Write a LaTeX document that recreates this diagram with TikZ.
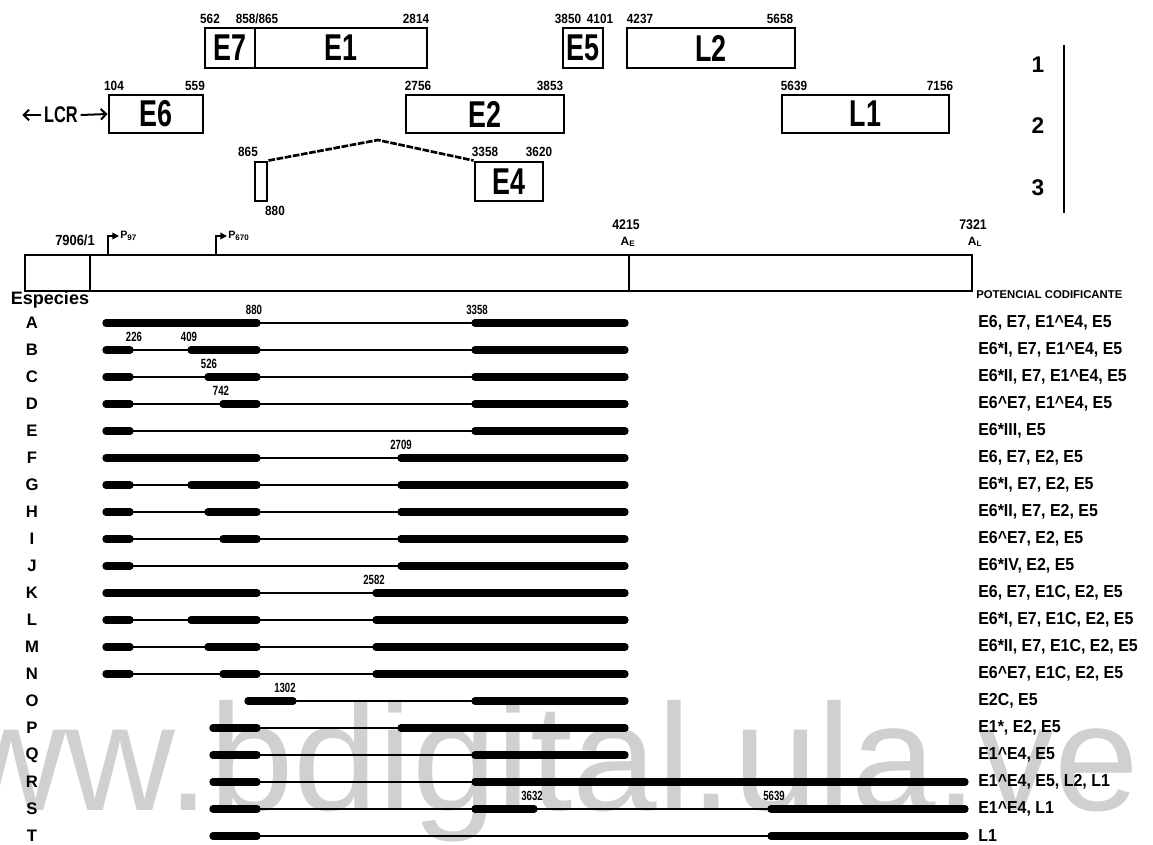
\documentclass[tikz,border=0pt]{standalone}
\usepackage{fontspec}
\setmainfont{Liberation Sans}
\newfontfamily\narrowfont[FakeStretch=0.72]{Liberation Sans}
\newfontfamily\numfont[FakeStretch=0.88]{Liberation Sans}
\newfontfamily\codfont[FakeStretch=0.92]{Liberation Sans}
\usetikzlibrary{arrows.meta}
\definecolor{wmgray}{RGB}{208,208,208}
\newcommand\geneBox[6]{%
  \pgfmathsetmacro\gbw{(#4-#2)*0.75}%
  \pgfmathsetmacro\gbh{(#5-#3)*0.75}%
  \node[genebox, minimum width=\gbw pt, minimum height=\gbh pt] (#1) at ({(#2+#4)/2},{(#3+#5)/2}) {#6};}
\newcommand\spRow[6]{%
  \node[rowlab] (lab#2) at (32,#1) {#2};
  \draw[thinl] (#3,#1) -- (#4,#1);
  \foreach \sa/\sb in {#5} {\draw[thickl] ({\sa+3},#1) -- ({\sb-3},#1);}
  \node[codtext] (cod#2) at (978,#1) {#6};}
\begin{document}
\begin{tikzpicture}[x=0.75pt,y=-0.75pt,
  genebox/.style={draw, line width=2.2pt, inner sep=0pt, font=\narrowfont\bfseries\fontsize{28}{28}\selectfont},
  num/.style={font=\numfont\bfseries\fontsize{10}{10}\selectfont, inner sep=0pt},
  rowlab/.style={font=\bfseries\fontsize{12.5}{13}\selectfont, inner sep=0pt},
  codtext/.style={font=\codfont\bfseries\fontsize{13}{14}\selectfont, inner sep=0pt, anchor=west},
  splnum/.style={font=\narrowfont\bfseries\fontsize{10}{10}\selectfont, inner sep=0pt},
  thinl/.style={line width=1.5pt},
  thickl/.style={line width=5.5pt, line cap=round},
  prom/.style={line width=1.1pt, -{Triangle[length=5pt,width=5pt]}},
  lcrarrow/.style={line width=1.5pt, -{Straight Barb[length=4pt,width=8pt]}},
]
\useasboundingbox (0,0) rectangle (1153,844);
% watermark
\node[anchor=base west, text=wmgray, font=\fontsize{114}{114}\selectfont, inner sep=0pt] (wm) at (-154,810) {www.bdigital.ula.ve};
% top gene boxes
\geneBox{E7}{205}{28}{255}{68}{E7}
\geneBox{E1}{255}{28}{427}{68}{E1}
\geneBox{E5}{563}{28}{603}{68}{E5}
\geneBox{L2}{627}{28}{795}{68}{L2}
\geneBox{E6}{109}{95}{203}{133}{E6}
\geneBox{E2}{406}{95}{564}{133}{E2}
\geneBox{L1}{782}{95}{949}{133}{L1}
\geneBox{E1s}{255}{162}{267}{201}{}
\geneBox{E4}{475}{162}{543}{201}{E4}
% coordinates labels
\node[num] (n562) at (210,19) {562};
\node[num] (n858) at (257,19) {858/865};
\node[num] (n2814) at (416,19) {2814};
\node[num] (n3850) at (568,19) {3850};
\node[num] (n4101) at (600,19) {4101};
\node[num] (n4237) at (640,19) {4237};
\node[num] (n5658) at (780,19) {5658};
\node[num] (n104) at (114,86) {104};
\node[num] (n559) at (195,86) {559};
\node[num] (n2756) at (418,86) {2756};
\node[num] (n3853) at (550,86) {3853};
\node[num] (n5639) at (794,86) {5639};
\node[num] (n7156) at (940,86) {7156};
\node[num] (n865) at (248,152) {865};
\node[num] (n880) at (275,211) {880};
\node[num] (n3358) at (485,152) {3358};
\node[num] (n3620) at (539,152) {3620};
% splice line
\coordinate (peak) at (378,140);
\draw[line width=2pt, dash pattern=on 5pt off 1.2pt] (E1s.north east) -- (peak) -- (E4.north west);
% LCR
\node[font=\narrowfont\bfseries\fontsize{17}{17}\selectfont, inner sep=0pt] (lcr) at (61,115) {LCR};
\draw[lcrarrow] ([xshift=-2pt]lcr.west) -- ++(-19,0);
\draw[lcrarrow] ([xshift=2pt]lcr.east) -- (E6.west);
% frame numbers
\node[font=\bfseries\fontsize{17}{17}\selectfont, inner sep=0pt] (f1) at (1038,65) {1};
\node[font=\bfseries\fontsize{17}{17}\selectfont, inner sep=0pt] (f2) at (1038,126) {2};
\node[font=\bfseries\fontsize{17}{17}\selectfont, inner sep=0pt] (f3) at (1038,188) {3};
\draw[line width=1.5pt] (1064,45) -- (1064,213);
% genome
\geneBox{genome}{25}{255}{972}{291}{}
\draw[line width=2.2pt] (90,255) -- (90,291);
\draw[line width=2.2pt] (629,255) -- (629,291);
\node[num, font=\numfont\bfseries\fontsize{11}{11}\selectfont] (n7906) at (75,240) {7906/1};
\node[num, font=\numfont\bfseries\fontsize{10.5}{11}\selectfont] (n4215) at (626,225) {4215};
\node[num, font=\numfont\bfseries\fontsize{10.5}{11}\selectfont] (n7321) at (973,225) {7321};
\node[num, font=\bfseries\fontsize{9}{10}\selectfont] (AE) at (628,242) {A\textsubscript{E}};
\node[num, font=\bfseries\fontsize{9}{10}\selectfont] (AL) at (975,242) {A\textsubscript{L}};
\draw[prom] (108,255) |- (119,236);
\node[num, anchor=west, font=\bfseries\fontsize{8}{8}\selectfont] (p97) at (120,236) {P\textsubscript{97}};
\draw[prom] (216,255) |- (227,236);
\node[num, anchor=west, font=\bfseries\fontsize{8}{8}\selectfont] (p670) at (228,236) {P\textsubscript{670}};
% headings
\node[font=\bfseries\fontsize{13.5}{14}\selectfont, inner sep=0pt] (esp) at (50,300) {Especies};
\node[font=\bfseries\fontsize{8.5}{9}\selectfont, inner sep=0pt, anchor=west] (pot) at (976,295) {POTENCIAL CODIFICANTE};
% rows
\spRow{323}{A}{103}{628}{103/260,472/628}{E6, E7, E1\textasciicircum E4, E5}
\spRow{350}{B}{103}{628}{103/133,188/260,472/628}{E6*I, E7, E1\textasciicircum E4, E5}
\spRow{377}{C}{103}{628}{103/133,205/260,472/628}{E6*II, E7, E1\textasciicircum E4, E5}
\spRow{404}{D}{103}{628}{103/133,220/260,472/628}{E6\textasciicircum E7, E1\textasciicircum E4, E5}
\spRow{431}{E}{103}{628}{103/133,472/628}{E6*III, E5}
\spRow{458}{F}{103}{628}{103/260,398/628}{E6, E7, E2, E5}
\spRow{485}{G}{103}{628}{103/133,188/260,398/628}{E6*I, E7, E2, E5}
\spRow{512}{H}{103}{628}{103/133,205/260,398/628}{E6*II, E7, E2, E5}
\spRow{539}{I}{103}{628}{103/133,220/260,398/628}{E6\textasciicircum E7, E2, E5}
\spRow{566}{J}{103}{628}{103/133,398/628}{E6*IV, E2, E5}
\spRow{593}{K}{103}{628}{103/260,373/628}{E6, E7, E1C, E2, E5}
\spRow{620}{L}{103}{628}{103/133,188/260,373/628}{E6*I, E7, E1C, E2, E5}
\spRow{647}{M}{103}{628}{103/133,205/260,373/628}{E6*II, E7, E1C, E2, E5}
\spRow{674}{N}{103}{628}{103/133,220/260,373/628}{E6\textasciicircum E7, E1C, E2, E5}
\spRow{701}{O}{245}{628}{245/296,472/628}{E2C, E5}
\spRow{728}{P}{210}{628}{210/260,398/628}{E1*, E2, E5}
\spRow{755}{Q}{210}{628}{210/260,472/628}{E1\textasciicircum E4, E5}
\spRow{782}{R}{210}{968}{210/260,472/968}{E1\textasciicircum E4, E5, L2, L1}
\spRow{809}{S}{210}{968}{210/260,472/537,768/968}{E1\textasciicircum E4, L1}
\spRow{836}{T}{210}{968}{210/260,768/968}{L1}
% splice site labels
\node[splnum] (s880) at (254,310) {880};
\node[splnum] (s3358) at (477,310) {3358};
\node[splnum] (s226) at (134,337) {226};
\node[splnum] (s409) at (189,337) {409};
\node[splnum] (s526) at (209,364) {526};
\node[splnum] (s742) at (221,391) {742};
\node[splnum] (s2709) at (401,445) {2709};
\node[splnum] (s2582) at (374,580) {2582};
\node[splnum] (s1302) at (285,688) {1302};
\node[splnum] (s3632) at (532,796) {3632};
\node[splnum] (s5639) at (774,796) {5639};
\end{tikzpicture}
\end{document}
